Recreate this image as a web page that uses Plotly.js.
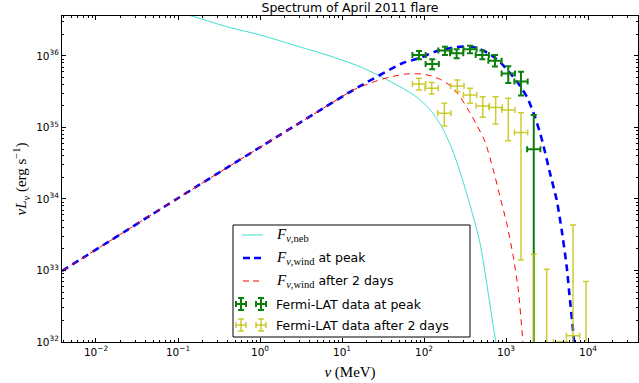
<!DOCTYPE html>
<html><head><meta charset="utf-8">
<script src="https://cdn.plot.ly/plotly-3.0.1.min.js"></script>
<style>html,body{margin:0;padding:0;background:#fff}#chart{width:639px;height:383px}</style>
</head><body><div id="chart"></div>
<script>
// ---- model curves (nu in MeV, nuL_nu in erg/s) ----
const nebX = [0.00385, 0.0196, 0.147, 0.393, 1.0, 2.55, 6.50, 16.6, 50.9, 85.1, 124, 164, 218, 275, 364, 482, 582, 700, 755, 798];
const nebY = [1.10e37, 6.9e36, 3.62e36, 2.57e36, 1.97e36, 1.426e36, 1.033e36, 7.08e35, 3.72e35, 2.56e35, 1.663e35, 1.026e35, 5.12e34, 2.39e34, 8.24e33, 2.40e33, 6.62e32, 1.64e32, 9.77e31, 5.6e31];

const windPeakX = [0.00385, 0.185, 5.92, 13.7, 55.5, 89.3, 144, 252, 396, 603, 845, 1119, 1400, 1803, 2259, 2748, 3443, 4150, 4775, 5495, 6026, 6501, 6745, 7047];
const windPeakY = [9.84e32, 1.596e34, 1.858e35, 3.342e35, 7.98e35, 9.38e35, 1.175e36, 1.337e36, 1.337e36, 1.102e36, 8.24e35, 5.78e35, 4.19e35, 2.67e35, 1.403e35, 6.68e34, 2.286e34, 9.68e33, 3.68e33, 1.13e33, 3.86e32, 1.64e32, 1.01e32, 5.6e31];

const windLateX = [0.00385, 0.185, 5.92, 13.7, 23.2, 38.5, 61.5, 93.8, 124, 164, 218, 275, 347, 440, 555, 700, 845, 1021, 1227, 1413, 1552, 1600, 1633];
const windLateY = [9.84e32, 1.596e34, 1.858e35, 3.342e35, 4.26e35, 5.08e35, 5.60e35, 5.60e35, 5.25e35, 4.61e35, 3.72e35, 2.70e35, 1.758e35, 1.084e35, 6.32e34, 2.547e34, 1.076e34, 4.57e33, 1.56e33, 5.33e32, 1.64e32, 1.07e32, 5.6e31];

// ---- Fermi-LAT data at peak ----
const peakE      = [87, 126, 180, 250, 364, 514, 734, 1066, 1524, 2180];
const peakEminus = [14.8, 21.4, 30.6, 42.5, 61.9, 87.4, 125, 181, 259, 371];
const peakEplus  = [17.8, 25.8, 36.9, 51.3, 74.6, 105, 150, 219, 312, 447];
const peakL      = [1.03e36, 7.7e35, 1.19e36, 1.09e36, 1.24e36, 1.03e36, 8.6e35, 5.7e35, 4.4e35, 4.96e34];
const peakLplus  = [1.4e35, 1.3e35, 1.6e35, 1.5e35, 1.5e35, 1.6e35, 1.7e35, 1.5e35, 1.6e35, 1.0e35];
const peakLminus = [1.3e35, 1.2e35, 1.6e35, 1.6e35, 1.5e35, 1.3e35, 1.5e35, 1.5e35, 1.6e35, 4.9599e34];

// ---- Fermi-LAT data after 2 days ----
const lateE      = [87, 124, 177, 255, 364, 520, 748, 1066, 1524, 2180, 3135, 4560, 6560, 9460];
const lateEminus = [14.8, 21.1, 30.1, 43.4, 61.9, 88.4, 127, 181, 259, 371, 533, 775, 1115, 1608];
const lateEplus  = [17.8, 25.4, 36.3, 52.3, 74.6, 107, 153, 219, 312, 447, 643, 935, 1345, 1939];
const lateL      = [4.05e35, 3.53e35, 1.58e35, 3.8e35, 2.85e35, 2.0e35, 1.91e35, 1.76e35, 8.5e34, 4e31, 4e31, 9.9e31, 1.22e32, 4e31];
const lateLplus  = [0.83e35, 0.71e35, 0.6e35, 0.8e35, 0.68e35, 0.7e35, 0.79e35, 0.8e35, 7.6e34, 1.65e33, 1.0e33, 1e30, 4.21e33, 6.6e32];
const lateLminus = [0.71e35, 0.59e35, 0.53e35, 0.63e35, 0.67e35, 0.61e35, 0.79e35, 1.11e35, 8.36e34, 3.99e31, 3.99e31, 1e30, 1.2199e32, 3.99e31];

// ---- tick labels ----
const xTickVals = [0.01, 0.1, 1, 10, 100, 1000, 10000];
const xTickText = ['10<sup>\u22122</sup>', '10<sup>\u22121</sup>', '10<sup>0</sup>', '10<sup>1</sup>', '10<sup>2</sup>', '10<sup>3</sup>', '10<sup>4</sup>'];
const yTickVals = [1e32, 1e33, 1e34, 1e35, 1e36];
const yTickText = ['10<sup>32</sup>', '10<sup>33</sup>', '10<sup>34</sup>', '10<sup>35</sup>', '10<sup>36</sup>'];

// ---- layout helpers (pixel -> paper) ----
const L = 62, R = 638, T = 16, B = 342;
const P = x => (x - L) / (R - L);
const Q = y => (B - y) / (B - T);

function minorVals(d0, d1) {
  const v = [];
  for (let d = d0; d <= d1; d++) for (let m = 2; m <= 9; m++) v.push(m * Math.pow(10, d));
  return v;
}

const GREEN = '#0b800b';
const YELLOW = 'rgba(191,191,0,0.8)';
const XRANGE = [Math.log10(0.00385), Math.log10(40700)];
const YRANGE = [32, 36.559];

const traces = [
  {x: nebX, y: nebY, type: 'scatter', mode: 'lines', line: {color: '#40e0d0', width: 1, shape: 'spline', smoothing: 0.8}},
  {x: windPeakX, y: windPeakY, type: 'scatter', mode: 'lines', line: {color: '#0000ff', width: 2.6, dash: '7px,5px', shape: 'spline', smoothing: 0.6}},
  {x: windLateX, y: windLateY, type: 'scatter', mode: 'lines', line: {color: '#ff0000', width: 1, dash: '6px,5px', shape: 'spline', smoothing: 0.6}},
  {x: peakE, y: peakL, type: 'scatter', mode: 'markers', marker: {size: 1, color: 'rgba(0,0,0,0)'},
   error_x: {type: 'data', symmetric: false, array: peakEplus, arrayminus: peakEminus, color: GREEN, thickness: 2, width: 3},
   error_y: {type: 'data', symmetric: false, array: peakLplus, arrayminus: peakLminus, color: GREEN, thickness: 2, width: 3}},
  {x: lateE, y: lateL, type: 'scatter', mode: 'markers', marker: {size: 1, color: 'rgba(0,0,0,0)'},
   error_x: {type: 'data', symmetric: false, array: lateEplus, arrayminus: lateEminus, color: YELLOW, thickness: 1.5, width: 3},
   error_y: {type: 'data', symmetric: false, array: lateLplus, arrayminus: lateLminus, color: YELLOW, thickness: 1.5, width: 3}},
  // carrier for the minor-tick overlay axes
  {x: [], y: [], type: 'scatter', mode: 'lines', xaxis: 'x2', yaxis: 'y2'}
];

function seg(x0, y0, x1, y1, color, width, dash) {
  return {type: 'line', xref: 'paper', yref: 'paper', x0: P(x0), y0: Q(y0), x1: P(x1), y1: Q(y1),
          line: {color: color, width: width, dash: dash || 'solid'}};
}
function cross(cx, cy, color, w) {
  const hw = 5, hh = 6, c = 3;
  return [seg(cx - hw, cy, cx + hw, cy, color, w), seg(cx, cy - hh, cx, cy + hh, color, w),
          seg(cx - hw, cy - c, cx - hw, cy + c, color, w), seg(cx + hw, cy - c, cx + hw, cy + c, color, w),
          seg(cx - c, cy - hh, cx + c, cy - hh, color, w), seg(cx - c, cy + hh, cx + c, cy + hh, color, w)];
}

const rows = [235, 258, 281, 304, 325];
const shapes = [
  {type: 'rect', xref: 'paper', yref: 'paper', x0: P(233), y0: Q(337), x1: P(470), y1: Q(225),
   line: {color: '#000', width: 1}, fillcolor: '#fff'},
  seg(242, rows[0], 263, rows[0], '#40e0d0', 1),
  seg(243, rows[1], 263, rows[1], '#0000ff', 2.6, '7px,4px'),
  seg(243, rows[2], 263, rows[2], '#ff0000', 1, '6px,4px'),
  ...cross(241, rows[3], GREEN, 2), ...cross(261, rows[3], GREEN, 2),
  ...cross(241, rows[4], YELLOW, 1.5), ...cross(261, rows[4], YELLOW, 1.5)
];

const SANS = 'DejaVu Sans';
const SERIF = 'Liberation Serif';
const mathF = sub => '<span style="font-family:' + SERIF + ';font-size:15px"><i>F</i><sub><i>\u03bd</i>,' + sub + '</sub></span>';
const legendTexts = [mathF('neb'), mathF('wind') + ' at peak', mathF('wind') + ' after 2 days', 'Fermi-LAT data at peak', 'Fermi-LAT data after 2 days'];
const annotations = legendTexts.map((t, i) => ({
  text: t, xref: 'paper', yref: 'paper', x: P(274), y: Q(rows[i]), xanchor: 'left', yanchor: 'middle',
  showarrow: false, font: {family: SANS, size: 12.5, color: '#000'}
}));

const axisCommon = {
  type: 'log', showgrid: false, zeroline: false, showline: true, linecolor: '#000', linewidth: 1,
  mirror: 'ticks', ticks: 'inside', ticklen: 4, tickwidth: 1, tickcolor: '#000',
  tickmode: 'array', tickfont: {family: SANS, size: 10.5, color: '#000'}
};
const minorCommon = {
  type: 'log', showgrid: false, zeroline: false, showline: true, linecolor: '#000', linewidth: 1,
  mirror: 'ticks', ticks: 'inside', ticklen: 2, tickwidth: 1, tickcolor: '#000',
  tickmode: 'array', showticklabels: false
};

const layout = {
  width: 639, height: 383,
  margin: {l: L, r: 639 - R, t: T, b: 383 - B},
  paper_bgcolor: '#fff', plot_bgcolor: '#fff',
  showlegend: false,
  title: {text: 'Spectrum of April 2011 flare', font: {family: SANS, size: 12.5, color: '#000'},
          xref: 'paper', x: 0.5, xanchor: 'center', yref: 'container', y: 1 - 8 / 383, yanchor: 'middle'},
  xaxis: Object.assign({}, axisCommon, {
    range: XRANGE, tickvals: xTickVals, ticktext: xTickText,
    title: {text: '<i>\u03bd</i> (MeV)', font: {family: SERIF, size: 15, color: '#000'}, standoff: 9}
  }),
  yaxis: Object.assign({}, axisCommon, {
    range: YRANGE, tickvals: yTickVals, ticktext: yTickText,
    title: {text: '<i>\u03bdL</i><sub><i>\u03bd</i></sub> (erg s<sup>\u22121</sup>)', font: {family: SERIF, size: 15, color: '#000'}, standoff: 5}
  }),
  xaxis2: Object.assign({}, minorCommon, {overlaying: 'x', anchor: 'y', side: 'bottom', range: XRANGE, tickvals: minorVals(-3, 4)}),
  yaxis2: Object.assign({}, minorCommon, {overlaying: 'y', anchor: 'x', side: 'left', range: YRANGE, tickvals: minorVals(31, 36)}),
  shapes: shapes,
  annotations: annotations
};

Plotly.newPlot('chart', traces, layout, {displayModeBar: false, staticPlot: true});
</script>
</body></html>
